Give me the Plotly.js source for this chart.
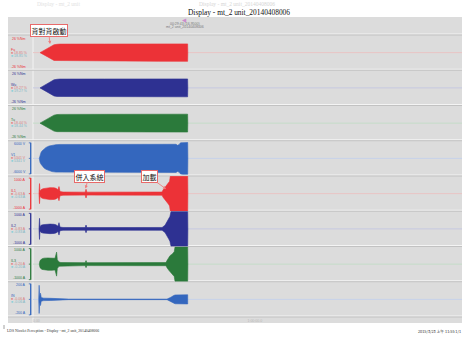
<!DOCTYPE html>
<html><head><meta charset="utf-8">
<script src="https://cdn.plot.ly/plotly-3.0.1.min.js"></script>
<style>html,body{margin:0;padding:0;background:#fff}#chart{width:465px;height:340px}</style>
</head><body><div id="chart"></div>
<script>
// ---------- data ----------
const channelNames  = ['Fu','Wu','Tu','V1','IL1','IL2','IL3','IN'];
const channelUnits  = ['%Nm','%Nm','%Nm','V','A','A','A','A'];
const channelRanges = [26, 26, 26, 6000, 1000, 1000, 1000, 200];
const readoutR = ['18.85 %','19.27 %','18.44 %','5341 V','-0.63 A','-0.83 A','-0.20 A','-0.06 A'];
const readoutL = ['18.85 %','19.27 %','18.44 %','5341 V','-0.63 A','-0.83 A','-0.20 A','-0.06 A'];
const channelColors = ['#ec3237','#2e3192','#2b7a3b','#3467be','#ec3237','#2e3192','#2b7a3b','#3467be'];
const centreColors  = ['#e9c4c4','#c6c8e0','#c4dcc8','#c6d2ea','#e9c4c4','#c6c8e0','#c4dcc8','#c6d2ea'];

// time in minutes, half-amplitude of each channel's envelope
const t1 = [1.96, 3.36, 4.76, 5.87, 6.71, 7.55, 20, 35, 43.25, 43.3];
const a1 = [0, 4.2, 8.2, 11.6, 12.3, 12.6, 12.7, 12.8, 12.9, 0];
const t2 = [1.96, 3.36, 4.76, 5.87, 6.71, 7.55, 20, 35, 43.25, 43.3];
const a2 = [0, 4.5, 8.8, 11.9, 12.7, 13.0, 13.1, 13.1, 13.2, 0];
const t3 = [1.96, 3.36, 4.76, 5.87, 6.71, 7.55, 20, 35, 43.25, 43.3];
const a3 = [0, 4.4, 8.6, 11.8, 12.6, 12.9, 13.0, 13.1, 13.2, 0];
const t4 = [1.76, 1.96, 2.24, 2.52, 3.08, 3.64, 4.48, 5.31, 6.43, 7.55, 18.74, 40.0, 40.42, 40.84, 41.26, 41.96, 43.27, 43.32];
const a4 = [0, 1320, 1980, 2520, 3240, 3720, 4200, 4500, 4680, 4740, 4800, 4800, 4440, 4680, 5280, 5400, 5400, 0];
const t5 = [1.68, 1.82, 1.96, 2.24, 2.8, 3.64, 4.76, 5.87, 6.43, 6.99, 7.27, 7.55, 8.4, 14.6, 14.83, 15.06, 30, 36.1, 36.36, 36.92, 37.48, 37.9, 38.2, 38.4, 43.27, 43.32];
const a5 = [0, 570, 150, 220, 280, 320, 340, 330, 300, 220, 400, 120, 90, 85, 250, 85, 85, 90, 200, 350, 500, 600, 700, 980, 980, 0];
const t6 = [1.68, 1.82, 1.96, 2.24, 2.8, 3.64, 4.76, 5.87, 6.43, 6.99, 7.27, 7.55, 8.4, 14.6, 14.83, 15.06, 30, 36.1, 36.92, 37.48, 37.9, 38.3, 38.6, 43.27, 43.32];
const a6 = [0, 600, 120, 200, 240, 260, 270, 260, 230, 150, 350, 100, 80, 75, 220, 75, 75, 80, 200, 380, 550, 700, 980, 980, 0];
const t7 = [1.76, 1.96, 2.52, 3.08, 4.2, 5.31, 5.87, 6.15, 6.6, 6.8, 7.27, 7.8, 14.6, 14.83, 15.06, 37.2, 37.48, 38.0, 38.32, 38.9, 39.2, 39.5, 39.72, 43.27, 43.32];
const a7 = [0, 200, 300, 340, 350, 350, 340, 330, 680, 250, 120, 90, 85, 200, 85, 90, 200, 350, 480, 560, 630, 700, 970, 970, 0];
const t8 = [1.6, 1.72, 1.85, 2.1, 2.3, 3.0, 5.0, 6.4, 7.0, 10, 37.5, 38.0, 38.6, 39.2, 39.72, 43.27, 43.32];
const a8 = [0, 160, 30, 70, 20, 14, 12, 10, 4, 3, 3, 10, 25, 40, 50, 52, 0];
const times = [t1,t2,t3,t4,t5,t6,t7,t8];
const amps  = [a1,a2,a3,a4,a5,a6,a7,a8];

const xTickVals = [0, 60];
const xTickText = ['0.00', '1:00:00.0'];
const cursorTime = 42.5;
const titleText = 'Display - mt_2 unit_20140408006';

// ---------- build ----------
const N = 8;
const PX = x => (x - 33) / 429;
const PY = y => (317 - y) / 282;
const traces = [];
const layout = {
  width: 465, height: 340,
  margin: {l: 33, r: 3, t: 35, b: 23, pad: 0},
  paper_bgcolor: '#ffffff', plot_bgcolor: 'rgba(0,0,0,0)',
  showlegend: false,
  title: {text: titleText, font: {family: 'Liberation Serif', size: 7.4, color: '#111'},
          x: 239/465, xanchor: 'center', y: 1 - 12/340, yanchor: 'middle'},
  xaxis: {range: [0, 120], anchor: 'y8', showgrid: false, zeroline: false, showline: false,
          tickvals: xTickVals, ticktext: xTickText, ticks: '', ticklabelposition: 'outside right',
          tickfont: {family: 'Liberation Sans', size: 3.5, color: '#b8b8b8'}, fixedrange: true},
  shapes: [], annotations: []
};
const S = layout.shapes, A = layout.annotations;

// grey background
S.push({type: 'rect', xref: 'paper', yref: 'paper', x0: PX(8), x1: 1, y0: PY(323), y1: PY(17),
        fillcolor: '#dcdcdc', line: {width: 0}, layer: 'below'});
// left edge line of plot area
S.push({type: 'line', xref: 'paper', yref: 'paper', x0: 0, x1: 0, y0: PY(323), y1: 1,
        line: {color: '#f3f3f3', width: 1}, layer: 'below'});
// separators
for (let k = 0; k <= N; k++) {
  const y = 1 - k / N;
  S.push({type: 'line', xref: 'paper', yref: 'paper', x0: PX(8), x1: 1, y0: y + 1/282, y1: y + 1/282,
          line: {color: '#f4f4f4', width: 1}, layer: 'below'});
  S.push({type: 'line', xref: 'paper', yref: 'paper', x0: PX(8), x1: 1, y0: y, y1: y,
          line: {color: '#c2c2c2', width: 1}, layer: 'below'});
}

const lblFont = (c) => ({family: 'Liberation Sans', size: 3.5, color: c});
for (let i = 0; i < N; i++) {
  const ax = 'y' + (i + 1);
  const axName = 'yaxis' + (i === 0 ? '' : (i + 1));
  const R = channelRanges[i];
  layout[axName] = {domain: [1 - (i + 1) / N, 1 - i / N], range: [-R, R], visible: false, fixedrange: true};
  const t = times[i], a = amps[i];
  const x = t.concat(t.slice().reverse());
  const y = a.concat(a.slice().reverse().map(v => -v));
  traces.push({type: 'scatter', mode: 'lines', x: x, y: y, xaxis: 'x', yaxis: ax,
               fill: 'toself', fillcolor: channelColors[i],
               line: {color: channelColors[i], width: 0.6}, hoverinfo: 'skip'});
  // centre line
  S.push({type: 'line', xref: 'paper', yref: ax, x0: 0, x1: 1, y0: 0, y1: 0,
          line: {color: centreColors[i], width: 1}, layer: 'below'});
  // axis bar for lower panels
  if (i >= 3) {
    const c = channelColors[i];
    S.push({type: 'line', xref: 'paper', yref: ax, x0: PX(30.7), x1: PX(30.7), y0: -0.88 * R, y1: 0.88 * R,
            line: {color: c, width: 1.3}});
    [-0.88, 0, 0.88].forEach(f => S.push({type: 'line', xref: 'paper', yref: ax, x0: PX(28.8), x1: PX(30.7),
            y0: f * R, y1: f * R, line: {color: c, width: 0.8}}));
  }
  const yTop = 35 + 35.25 * i, yc = yTop + 17.6;
  const c = channelColors[i];
  A.push({xref: 'paper', yref: 'paper', x: PX(28), y: PY(yc - 14), xanchor: 'right', yanchor: 'middle',
          text: R + ' ' + channelUnits[i], showarrow: false, font: lblFont(c)});
  A.push({xref: 'paper', yref: 'paper', x: PX(28), y: PY(yc + 14), xanchor: 'right', yanchor: 'middle',
          text: '-' + R + ' ' + channelUnits[i], showarrow: false, font: lblFont(c)});
  A.push({xref: 'paper', yref: 'paper', x: PX(9), y: PY(yc - 3), xanchor: 'left', yanchor: 'middle',
          text: channelNames[i], showarrow: false, font: lblFont(c)});
  A.push({xref: 'paper', yref: 'paper', x: PX(9), y: PY(yc), xanchor: 'left', yanchor: 'middle',
          text: '<span style="color:#e68a8a">■</span> ' + readoutR[i], showarrow: false, font: lblFont('#d98080')});
  A.push({xref: 'paper', yref: 'paper', x: PX(9), y: PY(yc + 3), xanchor: 'left', yanchor: 'middle',
          text: '<span style="color:#8fd0d8">■</span> ' + readoutL[i], showarrow: false, font: lblFont('#7fb8c4')});
}

// cursor marker + text in header
A.push({xref: 'x', yref: 'paper', x: cursorTime, y: PY(20), text: '◀', showarrow: false,
        font: {family: 'DejaVu Sans', size: 5.5, color: '#cc8acc'}, xanchor: 'center', yanchor: 'middle'});
A.push({xref: 'x', yref: 'paper', x: cursorTime, y: PY(24.2), text: '00:29:43 (16.9500)', showarrow: false,
        font: lblFont('#777'), xanchor: 'center', yanchor: 'middle'});
A.push({xref: 'x', yref: 'paper', x: cursorTime, y: PY(27.2), text: 'mt_2 unit_20140408006', showarrow: false,
        font: lblFont('#777'), xanchor: 'center', yanchor: 'middle'});

// call-out annotations
const cjk = {family: 'Noto Sans CJK TC', size: 7, color: '#111'};
const callout = (text, hx, hy, bx, by) => ({
  xref: 'paper', yref: 'paper', x: PX(hx), y: PY(hy), ax: bx - hx, ay: by - hy, axref: 'pixel', ayref: 'pixel',
  text: text, font: cjk, showarrow: true, arrowhead: 2, arrowsize: 0.7, arrowwidth: 0.9, arrowcolor: '#ef7f7f',
  bgcolor: '#ffffff', bordercolor: '#e86a6a', borderwidth: 1, borderpad: 0.5
});
A.push(callout('背對背啟動', 50, 44, 48.5, 30.3));
A.push(callout('併入系統', 85.5, 188.5, 89, 176));
A.push(callout('加載', 166, 189, 149, 176.5));

// faint header text above title
A.push({xref: 'paper', yref: 'paper', x: PX(237), y: PY(4), text: titleText, showarrow: false,
        font: {family: 'Liberation Serif', size: 5.5, color: '#d6d6d6'}, xanchor: 'center', yanchor: 'middle'});
A.push({xref: 'paper', yref: 'paper', x: PX(35), y: PY(4), text: 'Display - mt_2 unit', showarrow: false,
        font: {family: 'Liberation Serif', size: 5.5, color: '#e2e2e2'}, xanchor: 'left', yanchor: 'middle'});

// footer
A.push({xref: 'paper', yref: 'paper', x: PX(5), y: PY(331), text: 'LDS Nicolet Perception - Display - mt_2 unit_20140408006',
        showarrow: false, font: {family: 'Liberation Serif', size: 3.8, color: '#333'}, xanchor: 'left', yanchor: 'middle'});
A.push({xref: 'paper', yref: 'paper', x: PX(463), y: PY(331), text: '2015/3/23 上午 11:55 1/1',
        showarrow: false, font: {family: 'Noto Sans CJK TC', size: 3.8, color: '#333'}, xanchor: 'right', yanchor: 'middle'});
S.push({type: 'line', xref: 'paper', yref: 'paper', x0: PX(4), x1: PX(4), y0: PY(325), y1: PY(329),
        line: {color: '#888', width: 0.8}});

Plotly.newPlot('chart', traces, layout, {staticPlot: true, displayModeBar: false});
</script></body></html>
